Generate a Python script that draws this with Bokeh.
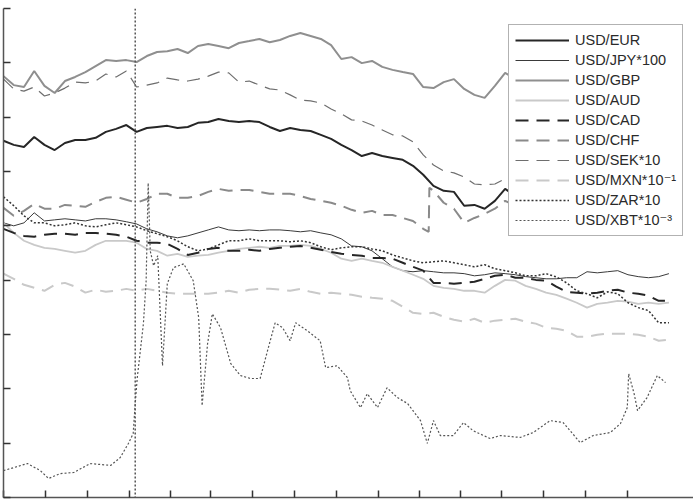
import pandas as pd
from bokeh.plotting import figure
from bokeh.models import Range1d, FixedTicker, Legend, LegendItem, Span, CustomJSTickFormatter
from bokeh.embed import file_html
from bokeh.resources import INLINE

# ---------------- data ----------------
start = pd.Timestamp("2013-05-01")
grid_days = list(range(0, 976, 15))          # semi-monthly observation days since start

usd_eur = [1.313, 1.298, 1.290, 1.327, 1.298, 1.279, 1.305, 1.316, 1.316, 1.324,
           1.346, 1.357, 1.371, 1.346, 1.360, 1.364, 1.368, 1.360, 1.364, 1.379,
           1.382, 1.393, 1.386, 1.382, 1.386, 1.382, 1.364, 1.349, 1.360, 1.353,
           1.349, 1.335, 1.320, 1.298, 1.279, 1.257, 1.268, 1.257, 1.250, 1.243,
           1.221, 1.188, 1.147, 1.129, 1.125, 1.074, 1.077, 1.063, 1.092, 1.136,
           1.110, 1.129, 1.129, 1.121, 1.118, 1.107, 1.099, 1.121, 1.129, 1.121,
           1.110, 1.099, 1.081, 1.070, 1.081, 1.092]
usd_jpy100 = [1.011, 1.000, 1.011, 1.048, 1.018, 1.022, 1.026, 1.022, 1.018, 1.026,
              1.026, 1.022, 1.015, 1.007, 0.989, 0.978, 0.963, 0.956, 0.963, 0.974,
              0.985, 0.996, 0.985, 0.982, 0.985, 0.982, 0.985, 0.985, 0.982, 0.978,
              0.982, 0.974, 0.967, 0.952, 0.926, 0.923, 0.908, 0.879, 0.849, 0.835,
              0.831, 0.835, 0.831, 0.827, 0.827, 0.824, 0.816, 0.820, 0.827, 0.824,
              0.820, 0.813, 0.809, 0.805, 0.805, 0.809, 0.809, 0.831, 0.827, 0.831,
              0.835, 0.820, 0.813, 0.809, 0.813, 0.824]
usd_gbp = [1.551, 1.518, 1.511, 1.570, 1.515, 1.489, 1.533, 1.548, 1.566, 1.588,
           1.610, 1.607, 1.610, 1.603, 1.625, 1.640, 1.643, 1.651, 1.636, 1.662,
           1.669, 1.662, 1.654, 1.673, 1.680, 1.688, 1.676, 1.684, 1.699, 1.710,
           1.699, 1.688, 1.665, 1.614, 1.621, 1.599, 1.607, 1.585, 1.574, 1.566,
           1.559, 1.511, 1.507, 1.529, 1.540, 1.504, 1.482, 1.471, 1.515, 1.563,
           1.540, 1.533, 1.551, 1.563, 1.570, 1.563, 1.555, 1.533, 1.526, 1.515,
           1.518, 1.511, 1.511, 1.504, 1.489, 1.478]
usd_aud = [1.011, 0.974, 0.945, 0.930, 0.919, 0.915, 0.908, 0.901, 0.908, 0.930,
           0.945, 0.945, 0.945, 0.938, 0.915, 0.908, 0.890, 0.897, 0.886, 0.890,
           0.893, 0.901, 0.908, 0.915, 0.919, 0.923, 0.919, 0.926, 0.926, 0.930,
           0.926, 0.915, 0.901, 0.879, 0.871, 0.879, 0.871, 0.864, 0.849, 0.835,
           0.820, 0.805, 0.779, 0.772, 0.768, 0.761, 0.761, 0.754, 0.779, 0.801,
           0.798, 0.779, 0.768, 0.754, 0.746, 0.732, 0.717, 0.699, 0.713, 0.717,
           0.724, 0.721, 0.713, 0.717, 0.713, 0.717]
usd_cad = [0.989, 0.974, 0.963, 0.960, 0.967, 0.971, 0.971, 0.967, 0.974, 0.974,
           0.971, 0.967, 0.960, 0.945, 0.938, 0.938, 0.934, 0.915, 0.893, 0.901,
           0.915, 0.919, 0.908, 0.908, 0.912, 0.908, 0.915, 0.919, 0.923, 0.926,
           0.919, 0.912, 0.904, 0.897, 0.893, 0.890, 0.882, 0.882, 0.879, 0.864,
           0.849, 0.835, 0.790, 0.790, 0.787, 0.790, 0.794, 0.805, 0.816, 0.820,
           0.809, 0.809, 0.801, 0.798, 0.776, 0.757, 0.754, 0.750, 0.754, 0.761,
           0.765, 0.754, 0.750, 0.743, 0.724, 0.724]
chf_days = grid_days[:42] + [623, 624] + grid_days[42:]
usd_chf = [1.066, 1.037, 1.055, 1.081, 1.063, 1.063, 1.077, 1.074, 1.070, 1.088,
           1.103, 1.107, 1.096, 1.085, 1.099, 1.118, 1.118, 1.103, 1.103, 1.110,
           1.125, 1.136, 1.129, 1.132, 1.132, 1.125, 1.118, 1.118, 1.118, 1.110,
           1.099, 1.092, 1.085, 1.074, 1.059, 1.048, 1.055, 1.040, 1.040, 1.029,
           1.018, 0.989, 0.978, 1.140,
           1.129, 1.085, 1.063, 1.011, 1.029, 1.044, 1.063, 1.092,
           1.074, 1.063, 1.055, 1.070, 1.074, 1.066, 1.055, 1.048, 1.033, 1.037,
           1.040, 1.026, 1.011, 0.989, 0.982, 1.000]
usd_sek10 = [1.540, 1.504, 1.496, 1.511, 1.478, 1.489, 1.507, 1.529, 1.526, 1.533,
             1.559, 1.548, 1.570, 1.511, 1.518, 1.526, 1.544, 1.537, 1.533, 1.540,
             1.551, 1.566, 1.563, 1.529, 1.533, 1.518, 1.504, 1.500, 1.482, 1.463,
             1.460, 1.452, 1.430, 1.412, 1.390, 1.386, 1.371, 1.353, 1.335, 1.331,
             1.309, 1.261, 1.224, 1.202, 1.195, 1.180, 1.154, 1.151, 1.154, 1.173,
             1.158, 1.147, 1.158, 1.173, 1.195, 1.202, 1.210, 1.184, 1.173, 1.165,
             1.180, 1.195, 1.202, 1.188, 1.180, 1.184]
usd_mxn01 = [0.824, 0.805, 0.783, 0.772, 0.761, 0.783, 0.790, 0.776, 0.754, 0.765,
             0.757, 0.761, 0.768, 0.761, 0.768, 0.761, 0.754, 0.750, 0.750, 0.750,
             0.750, 0.754, 0.761, 0.754, 0.765, 0.768, 0.768, 0.765, 0.761, 0.768,
             0.757, 0.750, 0.754, 0.750, 0.746, 0.739, 0.735, 0.732, 0.724, 0.702,
             0.680, 0.676, 0.680, 0.665, 0.654, 0.647, 0.658, 0.643, 0.651, 0.654,
             0.658, 0.647, 0.640, 0.625, 0.621, 0.614, 0.592, 0.592, 0.599, 0.603,
             0.603, 0.603, 0.599, 0.592, 0.577, 0.581]
usd_zar10 = [1.107, 1.074, 1.037, 1.011, 1.011, 1.000, 1.004, 1.011, 1.000, 0.996,
             1.004, 1.011, 1.004, 0.996, 0.982, 0.971, 0.960, 0.945, 0.923, 0.908,
             0.915, 0.930, 0.945, 0.945, 0.952, 0.945, 0.945, 0.945, 0.941, 0.945,
             0.938, 0.923, 0.912, 0.919, 0.923, 0.923, 0.915, 0.908, 0.893, 0.882,
             0.871, 0.864, 0.868, 0.871, 0.864, 0.857, 0.849, 0.857, 0.842, 0.835,
             0.827, 0.816, 0.816, 0.824, 0.812, 0.790, 0.761, 0.750, 0.735, 0.757,
             0.750, 0.717, 0.699, 0.688, 0.643, 0.643]
xbt_days = [0, 15, 35, 54, 66, 83, 103, 127, 157, 171, 183, 190, 193, 196, 201, 205,
            209, 212, 215, 220, 226, 233, 240, 249, 264, 278, 286, 291, 299, 306,
            318, 333, 347, 362, 376, 388, 398, 409, 420, 428, 445, 464, 472, 489,
            504, 508, 523, 533, 548, 562, 577, 592, 611, 621, 630, 640, 659, 674,
            688, 713, 728, 757, 776, 801, 820, 845, 864, 889, 904, 914, 916, 924,
            929, 943, 958, 970]
usd_xbt = [0.099, 0.110, 0.125, 0.099, 0.070, 0.088, 0.092, 0.125, 0.118, 0.147,
           0.199, 0.235, 0.346, 0.441, 0.551, 0.640, 0.798, 1.158, 0.908, 0.853,
           0.890, 0.485, 0.787, 0.846, 0.860, 0.798, 0.662, 0.338, 0.566, 0.676,
           0.625, 0.493, 0.449, 0.438, 0.438, 0.551, 0.643, 0.625, 0.577, 0.643,
           0.614, 0.577, 0.478, 0.485, 0.441, 0.393, 0.331, 0.382, 0.331, 0.404,
           0.368, 0.346, 0.283, 0.199, 0.283, 0.228, 0.228, 0.276, 0.246, 0.217,
           0.228, 0.221, 0.239, 0.283, 0.276, 0.202, 0.228, 0.239, 0.272, 0.331,
           0.456, 0.382, 0.320, 0.368, 0.449, 0.423]
event_day = 193
y_ticks = [0.0, 0.2, 0.4, 0.6, 0.8, 1.0, 1.2, 1.4, 1.6, 1.8]
x_tick_dates = pd.date_range("2013-05-01", "2015-11-01", freq="2MS")
x_end_day = 1011


def dates(days):
    return [start + pd.Timedelta(days=d) for d in days]


def ms(ts):
    return ts.value / 1e6


# ---------------- figure ----------------
p = figure(width=693, height=499, x_axis_type="datetime",
           x_range=Range1d(start, start + pd.Timedelta(days=x_end_day)),
           y_range=Range1d(y_ticks[0], y_ticks[-1]),
           output_backend="svg", toolbar_location=None,
           min_border_left=3, min_border_right=0, min_border_top=8, min_border_bottom=2)
p.outline_line_color = None
p.grid.visible = False
p.background_fill_color = "white"
p.border_fill_color = "white"

p.xaxis.ticker = FixedTicker(ticks=[ms(t) for t in x_tick_dates])
p.yaxis.ticker = FixedTicker(ticks=y_ticks)
blank = CustomJSTickFormatter(code="return '';")
for ax in p.axis:
    ax.formatter = blank
    ax.major_label_text_font_size = "1px"
    ax.major_label_standoff = 0
    ax.major_tick_in = 7
    ax.major_tick_out = 0
    ax.minor_tick_in = 0
    ax.minor_tick_out = 0
    ax.axis_line_color = "#555555"
    ax.axis_line_width = 1.5
    ax.major_tick_line_color = "#333333"
    ax.major_tick_line_width = 1.5

g = dates(grid_days)
series = [
    ("USD/EUR", g, usd_eur, dict(line_color="#262626", line_width=2.0)),
    ("USD/JPY*100", g, usd_jpy100, dict(line_color="#3a3a3a", line_width=1.0)),
    ("USD/GBP", g, usd_gbp, dict(line_color="#8f8f8f", line_width=2.0)),
    ("USD/AUD", g, usd_aud, dict(line_color="#c9c9c9", line_width=1.8)),
    ("USD/CAD", g, usd_cad, dict(line_color="#262626", line_width=2.0, line_dash="13 8")),
    ("USD/CHF", dates(chf_days), usd_chf, dict(line_color="#8a8a8a", line_width=2.0, line_dash="13 8")),
    ("USD/SEK*10", g, usd_sek10, dict(line_color="#6e6e6e", line_width=1.2, line_dash="13 8")),
    ("USD/MXN*10\u207b\u00b9", g, usd_mxn01, dict(line_color="#c9c9c9", line_width=2.0, line_dash="13 8")),
    ("USD/ZAR*10", g, usd_zar10, dict(line_color="#333333", line_width=1.5, line_dash="2 2")),
    ("USD/XBT*10\u207b\u00b3", dates(xbt_days), usd_xbt, dict(line_color="#555555", line_width=1.2, line_dash="2 2")),
]

items = []
for label, xs, ys, style in series:
    r = p.line(xs, ys, **style)
    items.append(LegendItem(label=label, renderers=[r]))

p.add_layout(Span(location=ms(start + pd.Timedelta(days=event_day)), dimension="height",
                  line_color="#555555", line_width=1.5, line_dash="2 2"))

legend = Legend(items=items, location=(505, 261), border_line_color="#666666",
                border_line_width=1, background_fill_color="white", background_fill_alpha=1,
                label_text_font="Liberation Sans, DejaVu Sans", label_text_font_size="14.5px",
                label_text_color="#2a2a2a", glyph_width=54, glyph_height=18,
                label_height=18, spacing=2, padding=6, label_standoff=6, margin=0)
p.add_layout(legend)

open("out.html", "w").write(file_html(p, INLINE))
